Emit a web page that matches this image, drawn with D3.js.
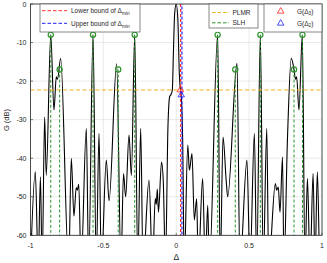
<!DOCTYPE html>
<html><head><meta charset="utf-8">
<script src="https://cdn.jsdelivr.net/npm/d3@7"></script>
<style>body{margin:0;background:#fff}svg{display:block;font-family:"Liberation Sans",Arial,sans-serif}</style>
</head><body><svg id="c" width="327" height="263"></svg>
<script>
// Beam pattern G(dB) vs Delta
const patDelta = [-1.000,-0.967,-0.947,-0.932,-0.920,-0.903,-0.892,-0.861,-0.839,-0.823,-0.815,-0.793,-0.738,-0.720,-0.702,-0.686,-0.679,-0.669,-0.653,-0.617,-0.601,-0.571,-0.549,-0.530,-0.514,-0.480,-0.461,-0.409,-0.379,-0.362,-0.347,-0.324,-0.308,-0.285,-0.264,-0.244,-0.228,-0.187,-0.163,-0.144,-0.137,-0.130,-0.122,-0.101,-0.089,-0.074,-0.057,-0.045,-0.035,-0.027,-0.019,-0.011,0.000,0.011,0.021,0.029,0.034,0.044,0.055,0.079,0.090,0.108,0.124,0.140,0.151,0.181,0.199,0.216,0.227,0.284,0.302,0.321,0.343,0.353,0.417,0.437,0.485,0.506,0.536,0.552,0.577,0.597,0.621,0.634,0.680,0.689,0.700,0.712,0.729,0.739,0.763,0.789,0.808,0.818,0.826,0.842,0.865,0.883,0.900,0.918,0.939,0.952,0.968,0.986,1.000];
const patG = [-68,-43.5,-68,-44.8,-68,-29.3,-44.4,-8,-27.5,-18.9,-19.5,-14.1,-68,-40,-55,-47.6,-48.3,-46.8,-68,-32.3,-68,-8,-68,-33.6,-68,-40.5,-51,-15.5,-68,-44,-50,-34,-44.5,-8,-68,-32.3,-68,-45.7,-68,-50.4,-52,-48,-54,-41,-46,-68,-31.9,-24,-23.4,-22.3,-12,-2.5,0,-4,-18,-22.5,-23.8,-35.3,-68,-36.6,-43.1,-38.8,-56,-50.5,-68,-45.3,-68,-52.2,-68,-8,-68,-34.5,-46,-50,-15.4,-68,-40.5,-68,-33.6,-68,-8,-68,-32.3,-68,-46.6,-48.3,-47.5,-54,-39.7,-68,-35,-14.1,-17,-19.5,-18.9,-27.5,-8,-68,-45.3,-68,-44,-68,-43.5,-68,-60];
// SLH markers
const slhDelta = [-0.861,-0.800,-0.571,-0.398,-0.285,0.284,0.405,0.577,0.808,0.866];
const slhG = [-8,-17,-8,-17,-8,-8,-17,-8,-17,-8];
const plmr = -22.3;
const lowerBound = 0.030, upperBound = 0.039;
const g3 = {d:0.028, g:-22.3}, g2 = {d:0.034, g:-23.6};
const xTicks = [-1,-0.5,0,0.5,1];
const yTicks = [0,-10,-20,-30,-40,-50,-60];

const svg = d3.select("#c");
const L=30.5,R=322,T=4,B=235.3;
const x = d3.scaleLinear().domain([-1,1]).range([L,R]);
const y = d3.scaleLinear().domain([-60,0]).range([B,T]);
const ink="#262626";

// grid
svg.append("g").selectAll("line").data(xTicks).join("line")
 .attr("x1",d=>x(d)).attr("x2",d=>x(d)).attr("y1",T).attr("y2",B).attr("stroke","#dcdcdc").attr("stroke-width",0.6);
svg.append("g").selectAll("line").data(yTicks).join("line")
 .attr("y1",d=>y(d)).attr("y2",d=>y(d)).attr("x1",L).attr("x2",R).attr("stroke","#dcdcdc").attr("stroke-width",0.6);

svg.append("defs").append("clipPath").attr("id","clp").append("rect").attr("x",L).attr("y",T).attr("width",R-L).attr("height",B-T);
const plot = svg.append("g").attr("clip-path","url(#clp)");

// curve
const pts = patDelta.map((d,i)=>[d,patG[i]]);
plot.append("path").datum(pts)
 .attr("d",d3.line().x(d=>x(d[0])).y(d=>y(d[1])).curve(d3.curveMonotoneX))
 .attr("fill","none").attr("stroke","#000").attr("stroke-width",1.1);

// SLH lines
const green="#2b952b";
plot.append("g").selectAll("line").data(slhDelta).join("line")
 .attr("x1",d=>x(d)).attr("x2",d=>x(d)).attr("y1",(d,i)=>y(slhG[i])).attr("y2",B)
 .attr("stroke",green).attr("stroke-width",1).attr("stroke-dasharray","3,2");
// PLMR
plot.append("line").attr("x1",L).attr("x2",R).attr("y1",y(plmr)).attr("y2",y(plmr))
 .attr("stroke","#EDB120").attr("stroke-width",1).attr("stroke-dasharray","4,2.5");
// bounds
plot.append("line").attr("x1",x(lowerBound)).attr("x2",x(lowerBound)).attr("y1",T).attr("y2",B)
 .attr("stroke","#ff3030").attr("stroke-width",1.2).attr("stroke-dasharray","3,2");
plot.append("line").attr("x1",x(upperBound)).attr("x2",x(upperBound)).attr("y1",T).attr("y2",B)
 .attr("stroke","#2020ff").attr("stroke-width",1.2).attr("stroke-dasharray","3,2").attr("stroke-dashoffset",2.5);
// SLH circles
plot.append("g").selectAll("circle").data(slhDelta).join("circle")
 .attr("cx",d=>x(d)).attr("cy",(d,i)=>y(slhG[i])).attr("r",2.6)
 .attr("fill","none").attr("stroke",green).attr("stroke-width",1.2);
// triangles
const tri = d3.symbol().type(d3.symbolTriangle).size(18);
svg.append("path").attr("d",tri).attr("transform",`translate(${x(g3.d)},${y(g3.g)})`).attr("fill","none").attr("stroke","#ff2020").attr("stroke-width",0.8);
svg.append("path").attr("d",tri).attr("transform",`translate(${x(g2.d)},${y(g2.g)})`).attr("fill","none").attr("stroke","#2020ff").attr("stroke-width",0.8);

// axes box
svg.append("rect").attr("x",L).attr("y",T).attr("width",R-L).attr("height",B-T).attr("fill","none").attr("stroke",ink).attr("stroke-width",0.8);
// ticks
svg.append("g").selectAll("line").data(xTicks).join("line").attr("x1",d=>x(d)).attr("x2",d=>x(d)).attr("y1",B).attr("y2",B-2.5).attr("stroke",ink).attr("stroke-width",0.6);
svg.append("g").selectAll("line").data(yTicks).join("line").attr("y1",d=>y(d)).attr("y2",d=>y(d)).attr("x1",L).attr("x2",L+2.5).attr("stroke",ink).attr("stroke-width",0.6);
svg.append("g").selectAll("text").data(xTicks).join("text").attr("x",d=>x(d)).attr("y",B+12.5)
 .attr("text-anchor","middle").attr("font-size",7).attr("fill",ink).text(d=>d);
svg.append("g").selectAll("text").data(yTicks).join("text").attr("x",L-4).attr("y",d=>y(d)+2.5)
 .attr("text-anchor","end").attr("font-size",7).attr("fill",ink).text(d=>d);
svg.append("text").attr("x",x(0)).attr("y",260).attr("text-anchor","middle").attr("font-size",8.5).attr("fill",ink).text("Δ");
svg.append("text").attr("transform","translate(9,120) rotate(-90)").attr("text-anchor","middle").attr("font-size",7.5).attr("fill",ink).text("G (dB)");

// legends
function box(x0,y0,w,h){svg.append("rect").attr("x",x0).attr("y",y0).attr("width",w).attr("height",h).attr("fill","#fff").attr("stroke","#555").attr("stroke-width",0.7);}
box(40,4,100,28);
[["#ff3030","Lower bound of Δ",10.7],["#2020ff","Upper bound of Δ",23.3]].forEach(([c,t,yy])=>{
 svg.append("line").attr("x1",42).attr("x2",67).attr("y1",yy).attr("y2",yy).attr("stroke",c).attr("stroke-width",1).attr("stroke-dasharray","3.5,2");
 const tx=svg.append("text").attr("x",71).attr("y",yy+2.3).attr("font-size",6.5).attr("fill",ink);
 tx.append("tspan").text(t);
 tx.append("tspan").attr("dy",2).attr("font-size",4.8).text("min");
});
box(209,4,49,24);
[["#EDB120","PLMR",12.5],[green,"SLH",22.8]].forEach(([c,t,yy])=>{
 svg.append("line").attr("x1",212).attr("x2",229).attr("y1",yy).attr("y2",yy).attr("stroke",c).attr("stroke-width",1).attr("stroke-dasharray","3.5,2");
 svg.append("text").attr("x",232.5).attr("y",yy+2.4).attr("font-size",6.5).attr("fill",ink).text(t);
});
box(264,4,58,28);
[["#ff2020","3",11.3],["#2020ff","2",23.3]].forEach(([c,s,yy])=>{
 svg.append("path").attr("d",tri).attr("transform",`translate(280.7,${yy})`).attr("fill","none").attr("stroke",c).attr("stroke-width",0.8);
 const tx=svg.append("text").attr("x",297).attr("y",yy+2.3).attr("font-size",6.5).attr("fill",ink);
 tx.append("tspan").text("G(Δ");
 tx.append("tspan").attr("dy",1.8).attr("font-size",4.8).text(s);
 tx.append("tspan").attr("dy",-1.8).text(")");
});
</script></body></html>
